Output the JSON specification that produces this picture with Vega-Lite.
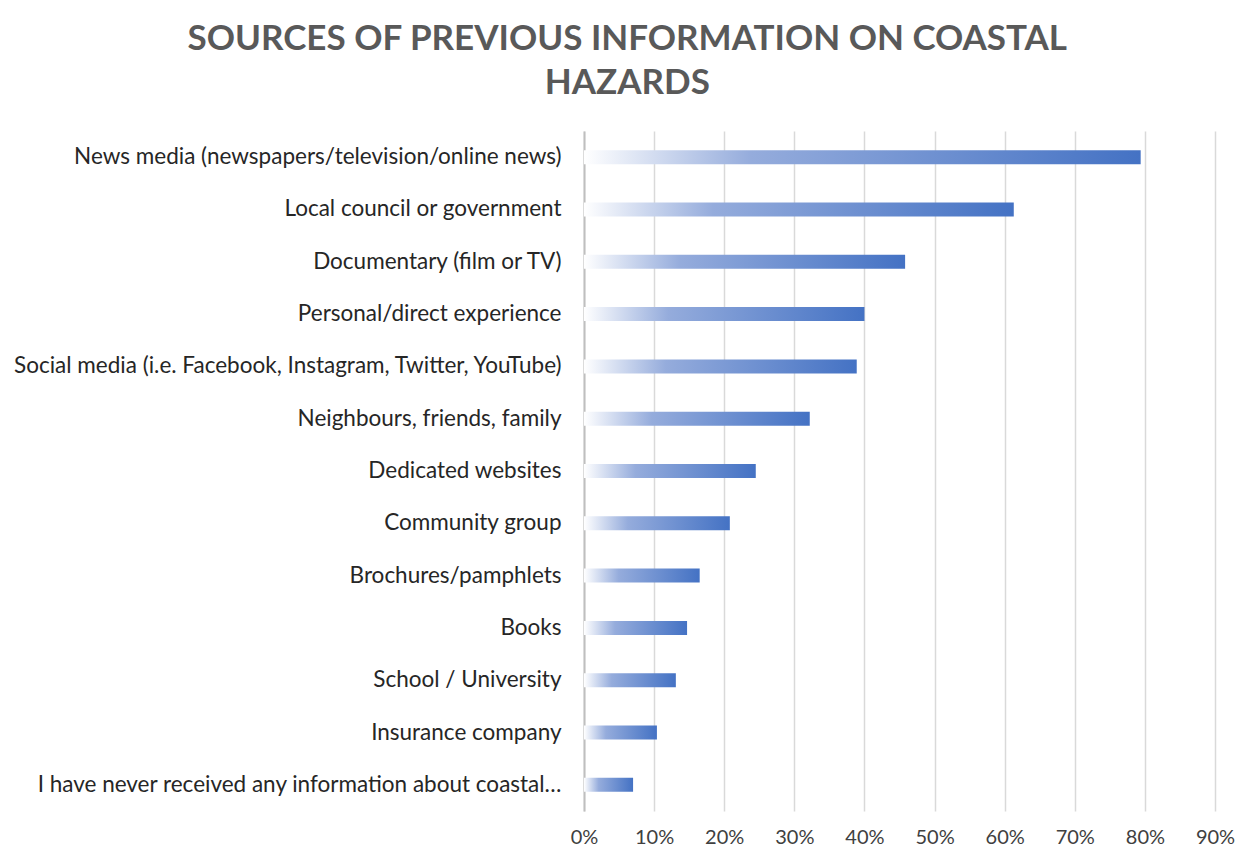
{
  "$schema": "https://vega.github.io/schema/vega-lite/v6.json",
  "width": 631,
  "height": 680,
  "padding": {"left": 12, "top": 22, "right": 23, "bottom": 4},
  "background": "white",
  "title": {
    "text": ["SOURCES OF PREVIOUS INFORMATION ON COASTAL", "HAZARDS"],
    "font": "Lato",
    "fontSize": 35,
    "fontWeight": "bold",
    "color": "#595959",
    "lineHeight": 44,
    "offset": 30,
    "anchor": "middle",
    "frame": "bounds",
    "dx": 4
  },
  "data": {
    "values": [
      {"source": "News media (newspapers/television/online news)", "share": 0.794},
      {"source": "Local council or government", "share": 0.613},
      {"source": "Documentary (film or TV)", "share": 0.458},
      {"source": "Personal/direct experience", "share": 0.400},
      {"source": "Social media (i.e. Facebook, Instagram, Twitter, YouTube)", "share": 0.389},
      {"source": "Neighbours, friends, family", "share": 0.322},
      {"source": "Dedicated websites", "share": 0.245},
      {"source": "Community group ", "share": 0.208},
      {"source": "Brochures/pamphlets", "share": 0.165},
      {"source": "Books", "share": 0.147},
      {"source": "School / University", "share": 0.131},
      {"source": "Insurance company", "share": 0.104},
      {"source": "I have never received any information about coastal…", "share": 0.070}
    ]
  },
  "mark": {
    "type": "bar",
    "size": 14,
    "color": {
      "gradient": "linear",
      "x1": 0, "y1": 0, "x2": 1, "y2": 0,
      "stops": [
        {"offset": 0, "color": "#ffffff"},
        {"offset": 0.3, "color": "#95acdc"},
        {"offset": 1, "color": "#4472c4"}
      ]
    }
  },
  "encoding": {
    "y": {
      "field": "source",
      "type": "nominal",
      "sort": null,
      "scale": {"paddingInner": 0, "paddingOuter": 0},
      "axis": {
        "title": null,
        "ticks": false,
        "domain": true,
        "domainColor": "#bfbfbf",
        "domainWidth": 2,
        "labelFont": "Lato",
        "labelFontSize": 22.5,
        "labelColor": "#262626",
        "labelPadding": 23,
        "labelLimit": 700
      }
    },
    "x": {
      "field": "share",
      "type": "quantitative",
      "scale": {"domain": [0, 0.9]},
      "axis": {
        "title": null,
        "format": ".0%",
        "values": [0, 0.1, 0.2, 0.3, 0.4, 0.5, 0.6, 0.7, 0.8, 0.9],
        "domain": false,
        "ticks": false,
        "grid": true,
        "gridColor": "#d9d9d9",
        "gridWidth": 1.5,
        "labelFont": "Lato",
        "labelFontSize": 20,
        "labelColor": "#404040",
        "labelPadding": 16,
        "labelFlush": false
      }
    }
  },
  "config": {"view": {"stroke": null}}
}
